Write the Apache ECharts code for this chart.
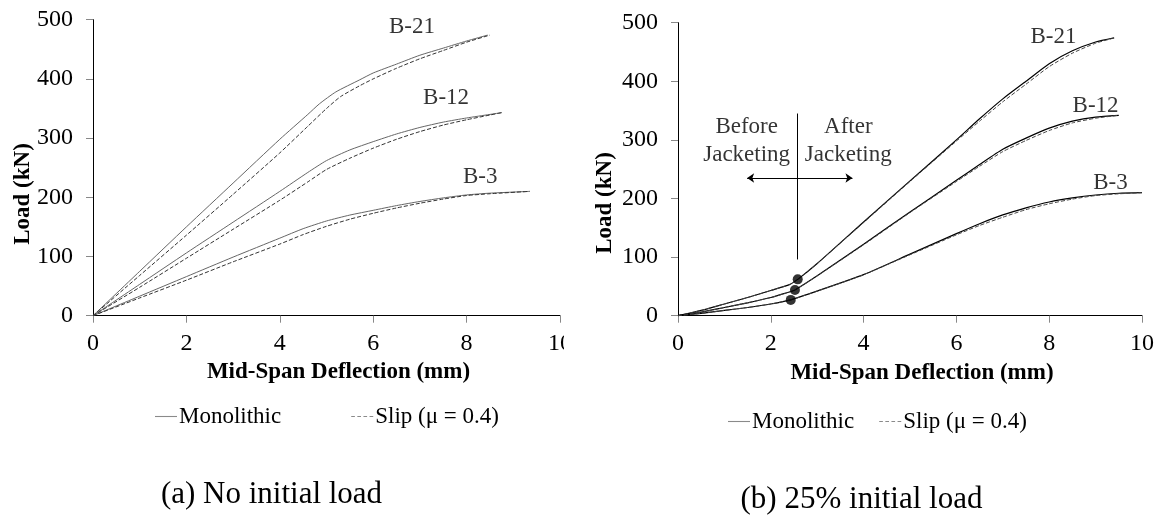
<!DOCTYPE html>
<html>
<head>
<meta charset="utf-8">
<script src="https://cdn.jsdelivr.net/npm/echarts@6/dist/echarts.min.js"></script>
<style>
  html,body{margin:0;padding:0;background:#fff;}
  #wrap{position:relative;width:1172px;height:521px;overflow:hidden;background:#fff;}
  #left{position:absolute;left:0;top:0;width:564px;height:521px;}
  #right{position:absolute;left:564px;top:0;width:608px;height:521px;}
</style>
</head>
<body>
<div id="wrap"><div id="left"></div><div id="right"></div></div>
<script>
// ---------- shared ----------
const xTicks = [0, 2, 4, 6, 8, 10];
const yTicks = [0, 100, 200, 300, 400, 500];
const xTitle = 'Mid-Span Deflection (mm)';
const yTitle = 'Load (kN)';
const legendNames = ['Monolithic', 'Slip (μ = 0.4)'];
const beamNames = ['B-21', 'B-12', 'B-3'];

// ---------- (a) No initial load ----------
const captionA = '(a) No initial load';
const a_B21_mono = [[0,0],[1,75],[2,150],[3,224],[4,298],[4.6,340],[4.85,358],[5.2,378],[5.7,398],[6,410],[6.5,425],[7,440],[7.5,452],[8,464],[8.45,474]];
const a_B21_slip = [[0,0],[1,68],[2,136],[3,205],[4,275],[4.6,320],[5,350],[5.3,370],[5.7,388],[6,400],[6.5,418],[7,434],[7.5,448],[8,462],[8.5,474]];
const a_B12_mono = [[0,0],[1,53],[2,106],[3,158],[4,210],[4.6,242],[5,262],[5.5,280],[6,294],[6.5,307],[7,318],[7.5,327],[8,334],[8.5,340],[8.75,343]];
const a_B12_slip = [[0,0],[1,48],[2,97],[3,146],[4,195],[4.6,226],[5,247],[5.5,266],[6,283],[6.5,298],[7,311],[7.5,322],[8,331],[8.5,339],[8.75,343]];
const a_B3_mono  = [[0,0],[1,33],[2,66],[3,99],[4,131],[4.5,147],[5,160],[5.5,170],[6,178],[6.5,186],[7,193],[7.5,199],[8,204],[8.5,207],[9.35,210]];
const a_B3_slip  = [[0,0],[1,30],[2,60],[3,91],[4,121],[4.5,137],[5,151],[5.5,163],[6,173],[6.5,182],[7,190],[7.5,197],[8,203],[8.5,206],[9.35,210]];
const a_labelPos = [[6.83,488],[7.56,367],[8.29,235]];

// ---------- (b) 25% initial load ----------
const captionB = '(b) 25% initial load';
const b_B21_mono = [[0,0],[0.5,9],[1,20],[1.5,31],[2,43],[2.4,53],[2.58,62],[3,89],[4,160],[5,230],[6,300],[6.5,336],[7,370],[7.5,400],[8,430],[8.5,452],[9,467],[9.4,474]];
const b_B21_slip = [[0,0],[0.5,9],[1,20],[1.5,31],[2,43],[2.4,53],[2.58,62],[3,89],[4,159],[5,229],[6,298],[6.5,332],[7,365],[7.5,395],[8,425],[8.5,448],[9,465],[9.4,474]];
const b_B12_mono = [[0,0],[0.5,6],[1,14],[1.5,22],[2,31],[2.3,38],[2.52,44],[3,68],[4,122],[5,177],[6,231],[6.5,258],[7,284],[7.5,303],[8,320],[8.5,332],[9,339],[9.5,342]];
const b_B12_slip = [[0,0],[0.5,6],[1,14],[1.5,22],[2,31],[2.3,38],[2.52,44],[3,68],[4,121],[5,176],[6,229],[6.5,255],[7,280],[7.5,299],[8,316],[8.5,329],[9,337],[9.5,342]];
const b_B3_mono  = [[0,0],[0.5,4],[1,9],[1.5,14],[2,20],[2.43,27],[3,42],[4,70],[5,105],[6,140],[6.5,157],[7,172],[7.5,184],[8,194],[8.5,201],[9,206],[9.5,209],[10,210]];
const b_B3_slip  = [[0,0],[0.5,4],[1,9],[1.5,14],[2,20],[2.43,27],[3,42],[4,70],[5,104],[6,138],[6.5,154],[7,168],[7.5,181],[8,191],[8.5,199],[9,205],[9.5,208],[10,210]];
const b_jacketPts = [[2.58,62],[2.52,44],[2.43,27]];
const b_labelPos = [[8.09,476],[9.0,358],[9.32,227]];
const b_divider = [[2.57,96],[2.57,345]];
const b_arrow = [[1.49,235],[3.76,235]];
const b_notes = [[1.48,299,'Before\nJacketing'],[3.67,299,'After\nJacketing']];

// ---------- builders ----------
const FONT = "'Liberation Serif','Times New Roman',serif";
const ICON_SOLID = 'path://M0,0H20V1H0Z';
const ICON_DASH = 'path://M0,0H3V1H0Z M5,0H8V1H5Z M10,0H13V1H10Z M15,0H18V1H15Z';

function axes(xGap) {
  return {
    xAxis: {
      type: 'value', min: 0, max: 10, interval: 2,
      name: xTitle, nameLocation: 'middle', nameGap: xGap,
      nameTextStyle: {fontFamily: FONT, fontWeight: 'bold', fontSize: 23, color: '#000', padding: [0,0,0,24]},
      axisLine: {show: true, lineStyle: {color: '#000', width: 1}},
      axisTick: {show: true, inside: false, length: 7, lineStyle: {color: '#888'}},
      axisLabel: {fontFamily: FONT, fontSize: 24, color: '#000', margin: 16, hideOverlap: false,
        formatter: v => xTicks.includes(v) ? String(v) : ''},
      splitLine: {show: false}
    },
    yAxis: {
      type: 'value', min: 0, max: 500, interval: 100,
      axisLine: {show: true, lineStyle: {color: '#000', width: 1}},
      axisTick: {show: true, inside: false, length: 7, lineStyle: {color: '#888'}},
      axisLabel: {fontFamily: FONT, fontSize: 24, color: '#000', margin: 20,
        formatter: v => yTicks.includes(v) ? String(v) : ''},
      splitLine: {show: false}
    }
  };
}

function legendOpt(left, top, gap, iconW) {
  return {
    left: left, top: top, itemWidth: iconW, itemHeight: 1.5, itemGap: gap,
    selectedMode: false,
    textStyle: {fontFamily: FONT, fontSize: 23, color: '#000', padding: [0,0,0,-3]},
    data: [
      {name: legendNames[0], icon: ICON_SOLID, itemStyle: {color: '#8a8a8a', borderWidth: 0}},
      {name: legendNames[1], icon: ICON_DASH, itemStyle: {color: '#8a8a8a', borderWidth: 0}}
    ]
  };
}

function lineSeries(name, data, color, dashed, width) {
  return {
    name: name, type: 'line', data: data, showSymbol: false, symbol: 'none',
    smooth: 0.2, silent: true,
    lineStyle: {color: color, width: width, type: dashed ? [4, 2] : 'solid'},
    itemStyle: {color: color}
  };
}

function textSeries(points, texts, fontSize) {
  return {
    type: 'scatter', silent: true, symbolSize: 1,
    itemStyle: {color: 'rgba(0,0,0,0)'},
    data: points.map((p, i) => [p[0], p[1], texts ? texts[i] : p[2]]),
    label: {show: true, position: 'inside', formatter: p => p.data[2],
      fontFamily: FONT, fontSize: fontSize, color: '#000', lineHeight: 28, align: 'center'}
  };
}

// ---------- left chart ----------
const chartA = echarts.init(document.getElementById('left'), null, {renderer: 'canvas'});
const axA = axes(42);
chartA.setOption({
  animation: false,
  grid: {left: 93, right: 4, top: 19.7, bottom: 205.3, containLabel: false, outerBoundsMode: 'none'},
  xAxis: axA.xAxis, yAxis: axA.yAxis,
  legend: legendOpt(150, 400, 70, 22),
  graphic: [
    {type: 'text', x: 23, y: 194, rotation: Math.PI / 2,
      style: {text: yTitle, fontFamily: FONT, fontWeight: 'bold', fontSize: 23, fill: '#000', align: 'center', verticalAlign: 'middle'}},
    {type: 'text', x: 271.5, y: 495,
      style: {text: captionA, fontFamily: FONT, fontSize: 31, fill: '#000', align: 'center', verticalAlign: 'middle'}}
  ],
  series: [
    lineSeries(legendNames[0], a_B21_mono, '#666', false, 1),
    lineSeries(legendNames[1], a_B21_slip, '#333', true, 1),
    lineSeries(legendNames[0], a_B12_mono, '#666', false, 1),
    lineSeries(legendNames[1], a_B12_slip, '#333', true, 1),
    lineSeries(legendNames[0], a_B3_mono, '#666', false, 1),
    lineSeries(legendNames[1], a_B3_slip, '#333', true, 1),
    textSeries(a_labelPos, beamNames, 23)
  ]
});

// ---------- right chart ----------
const chartB = echarts.init(document.getElementById('right'), null, {renderer: 'canvas'});
const axB = axes(46);
chartB.setOption({
  animation: false,
  grid: {left: 114, right: 30, top: 22.7, bottom: 205.3, containLabel: false, outerBoundsMode: 'none'},
  xAxis: axB.xAxis, yAxis: axB.yAxis,
  legend: legendOpt(159, 405, 25, 22),
  graphic: [
    {type: 'text', x: 41, y: 203, rotation: Math.PI / 2,
      style: {text: yTitle, fontFamily: FONT, fontWeight: 'bold', fontSize: 23, fill: '#000', align: 'center', verticalAlign: 'middle'}},
    {type: 'text', x: 297.5, y: 500,
      style: {text: captionB, fontFamily: FONT, fontSize: 31, fill: '#000', align: 'center', verticalAlign: 'middle'}}
  ],
  series: [
    Object.assign(lineSeries(legendNames[0], b_B21_mono, '#000', false, 1.2), {
      markLine: {
        silent: true, animation: false, label: {show: false},
        lineStyle: {color: '#000', width: 1, type: 'solid'},
        data: [
          [{coord: b_divider[0], symbol: 'none'}, {coord: b_divider[1], symbol: 'none'}],
          [{coord: b_arrow[0], symbol: 'arrow', symbolSize: 7}, {coord: b_arrow[1], symbol: 'arrow', symbolSize: 7}]
        ]
      }
    }),
    lineSeries(legendNames[1], b_B21_slip, '#444', true, 1),
    lineSeries(legendNames[0], b_B12_mono, '#000', false, 1.2),
    lineSeries(legendNames[1], b_B12_slip, '#444', true, 1),
    lineSeries(legendNames[0], b_B3_mono, '#000', false, 1.2),
    lineSeries(legendNames[1], b_B3_slip, '#444', true, 1),
    {type: 'scatter', silent: true, symbol: 'circle', symbolSize: 10, itemStyle: {color: '#000'}, data: b_jacketPts, z: 5},
    textSeries(b_labelPos, beamNames, 23),
    textSeries(b_notes, null, 23)
  ]
});
</script>
</body>
</html>
